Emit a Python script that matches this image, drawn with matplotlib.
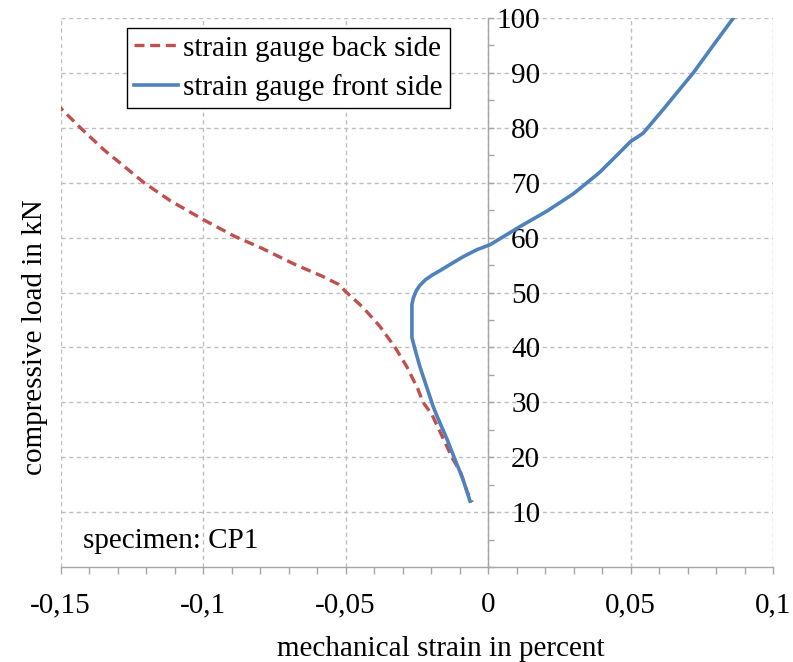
"""Compressive load over mechanical strain for both strain gauges of specimen CP1."""

import matplotlib
matplotlib.use("Agg")
import matplotlib.pyplot as plt
from matplotlib.ticker import FuncFormatter, MultipleLocator, FixedLocator

RED = "#C0504D"
BLUE = "#4F81BD"
GRID = "#BFBFBF"
AXIS = "#A6A6A6"

# strain gauge on the back side: strain in percent, load in kN
back_strain = [-0.1515, -0.15, -0.143, -0.1348, -0.1277, -0.1207, -0.1114, -0.1,
               -0.0888, -0.0795, -0.0677, -0.0583, -0.0525, -0.0496, -0.0439, -0.0379,
               -0.0326, -0.0284, -0.0246, -0.0228, -0.0197, -0.0161, -0.0123, -0.0098,
               -0.0074, -0.0056]
back_load = [84.5, 83.6, 80.0, 76.0, 73.0, 70.0, 66.7, 63.3,
             60.2, 58.1, 55.1, 53.0, 51.5, 50.0, 47.3, 43.8,
             40.0, 36.4, 32.4, 30.0, 27.8, 23.8, 19.6, 17.5,
             13.8, 11.8]

# strain gauge on the front side
front_strain = [-0.0063, -0.0088, -0.0116, -0.0144, -0.0179, -0.0193, -0.0214, -0.0239,
                -0.0256, -0.0267, -0.0267, -0.0262, -0.0252, -0.0239, -0.0220, -0.0195,
                -0.0168, -0.0130, -0.0088, -0.0039, 0.0007, 0.0112, 0.0206, 0.030,
                0.039, 0.046, 0.050, 0.0544, 0.0614, 0.072, 0.079, 0.0865]
front_load = [12.0, 16.0, 19.6, 23.3, 27.5, 29.3, 32.6, 36.5,
              39.6, 41.8, 47.8, 49.0, 50.3, 51.3, 52.3, 53.2,
              54.0, 55.2, 56.5, 57.8, 58.7, 62.0, 64.8, 68.0,
              71.8, 75.4, 77.5, 79.0, 83.3, 90.0, 95.0, 100.3]

load_ticks = [10, 20, 30, 40, 50, 60, 70, 80, 90, 100]

plt.rcParams["font.family"] = ["Liberation Serif", "DejaVu Serif"]
plt.rcParams["font.size"] = 21


def comma_fmt(v, pos):
    v = round(v, 4)
    if v == 0:
        return "0"
    return f"{v:g}".replace(".", ",")


fig = plt.figure(figsize=(7.93, 6.62), dpi=100)
ax = fig.add_axes([0.0763, 0.1435, 0.8985, 0.8293])

ax.plot(back_strain, back_load, color=RED, linewidth=2.4,
        linestyle=(0, (3.0, 1.7)), dash_capstyle="butt", label="strain gauge back side")
ax.plot(front_strain, front_load, color=BLUE, linewidth=2.6,
        label="strain gauge front side")

ax.set_xlim(-0.15, 0.1)
ax.set_ylim(0, 100)

# axes cross at the origin, only those two lines are solid
ax.spines["left"].set_position(("data", 0))
ax.spines["top"].set_visible(False)
ax.spines["right"].set_visible(False)
for side in ("left", "bottom"):
    ax.spines[side].set_color(AXIS)
    ax.spines[side].set_linewidth(1.0)
    ax.spines[side].set_zorder(1)

ax.xaxis.set_major_locator(MultipleLocator(0.05))
ax.xaxis.set_minor_locator(MultipleLocator(0.01))
ax.xaxis.set_major_formatter(FuncFormatter(comma_fmt))
ax.tick_params(axis="x", which="both", direction="out", length=5, width=1,
               color=AXIS, pad=13, labelsize=21)

ax.yaxis.set_major_locator(FixedLocator(load_ticks))
ax.yaxis.set_minor_locator(MultipleLocator(5))
ax.tick_params(axis="y", which="both", direction="in", length=4, width=1,
               color=AXIS, pad=-37.5, labelsize=21)

ax.grid(True, which="major", color=GRID, linestyle=(0, (3, 2.5)), linewidth=1.0)
ax.set_axisbelow(True)

ax.set_xlabel("mechanical strain in percent", fontsize=21)
ax.xaxis.set_label_coords(0.533, -0.125)
ax.set_ylabel("compressive load in kN", fontsize=21)
ax.yaxis.set_label_coords(-0.018, 0.418)

ax.text(-0.1421, 3.4, "specimen: CP1", fontsize=21, va="baseline", ha="left")

leg = ax.legend(loc="upper left", bbox_to_anchor=(0.093, 0.982), borderaxespad=0,
                fontsize=21, handlelength=1.5, handletextpad=0.18, labelspacing=0.42,
                borderpad=0.25, fancybox=False, framealpha=1)
leg.get_frame().set_edgecolor("black")
leg.get_frame().set_linewidth(1.0)

fig.savefig("out.png", dpi=100)
